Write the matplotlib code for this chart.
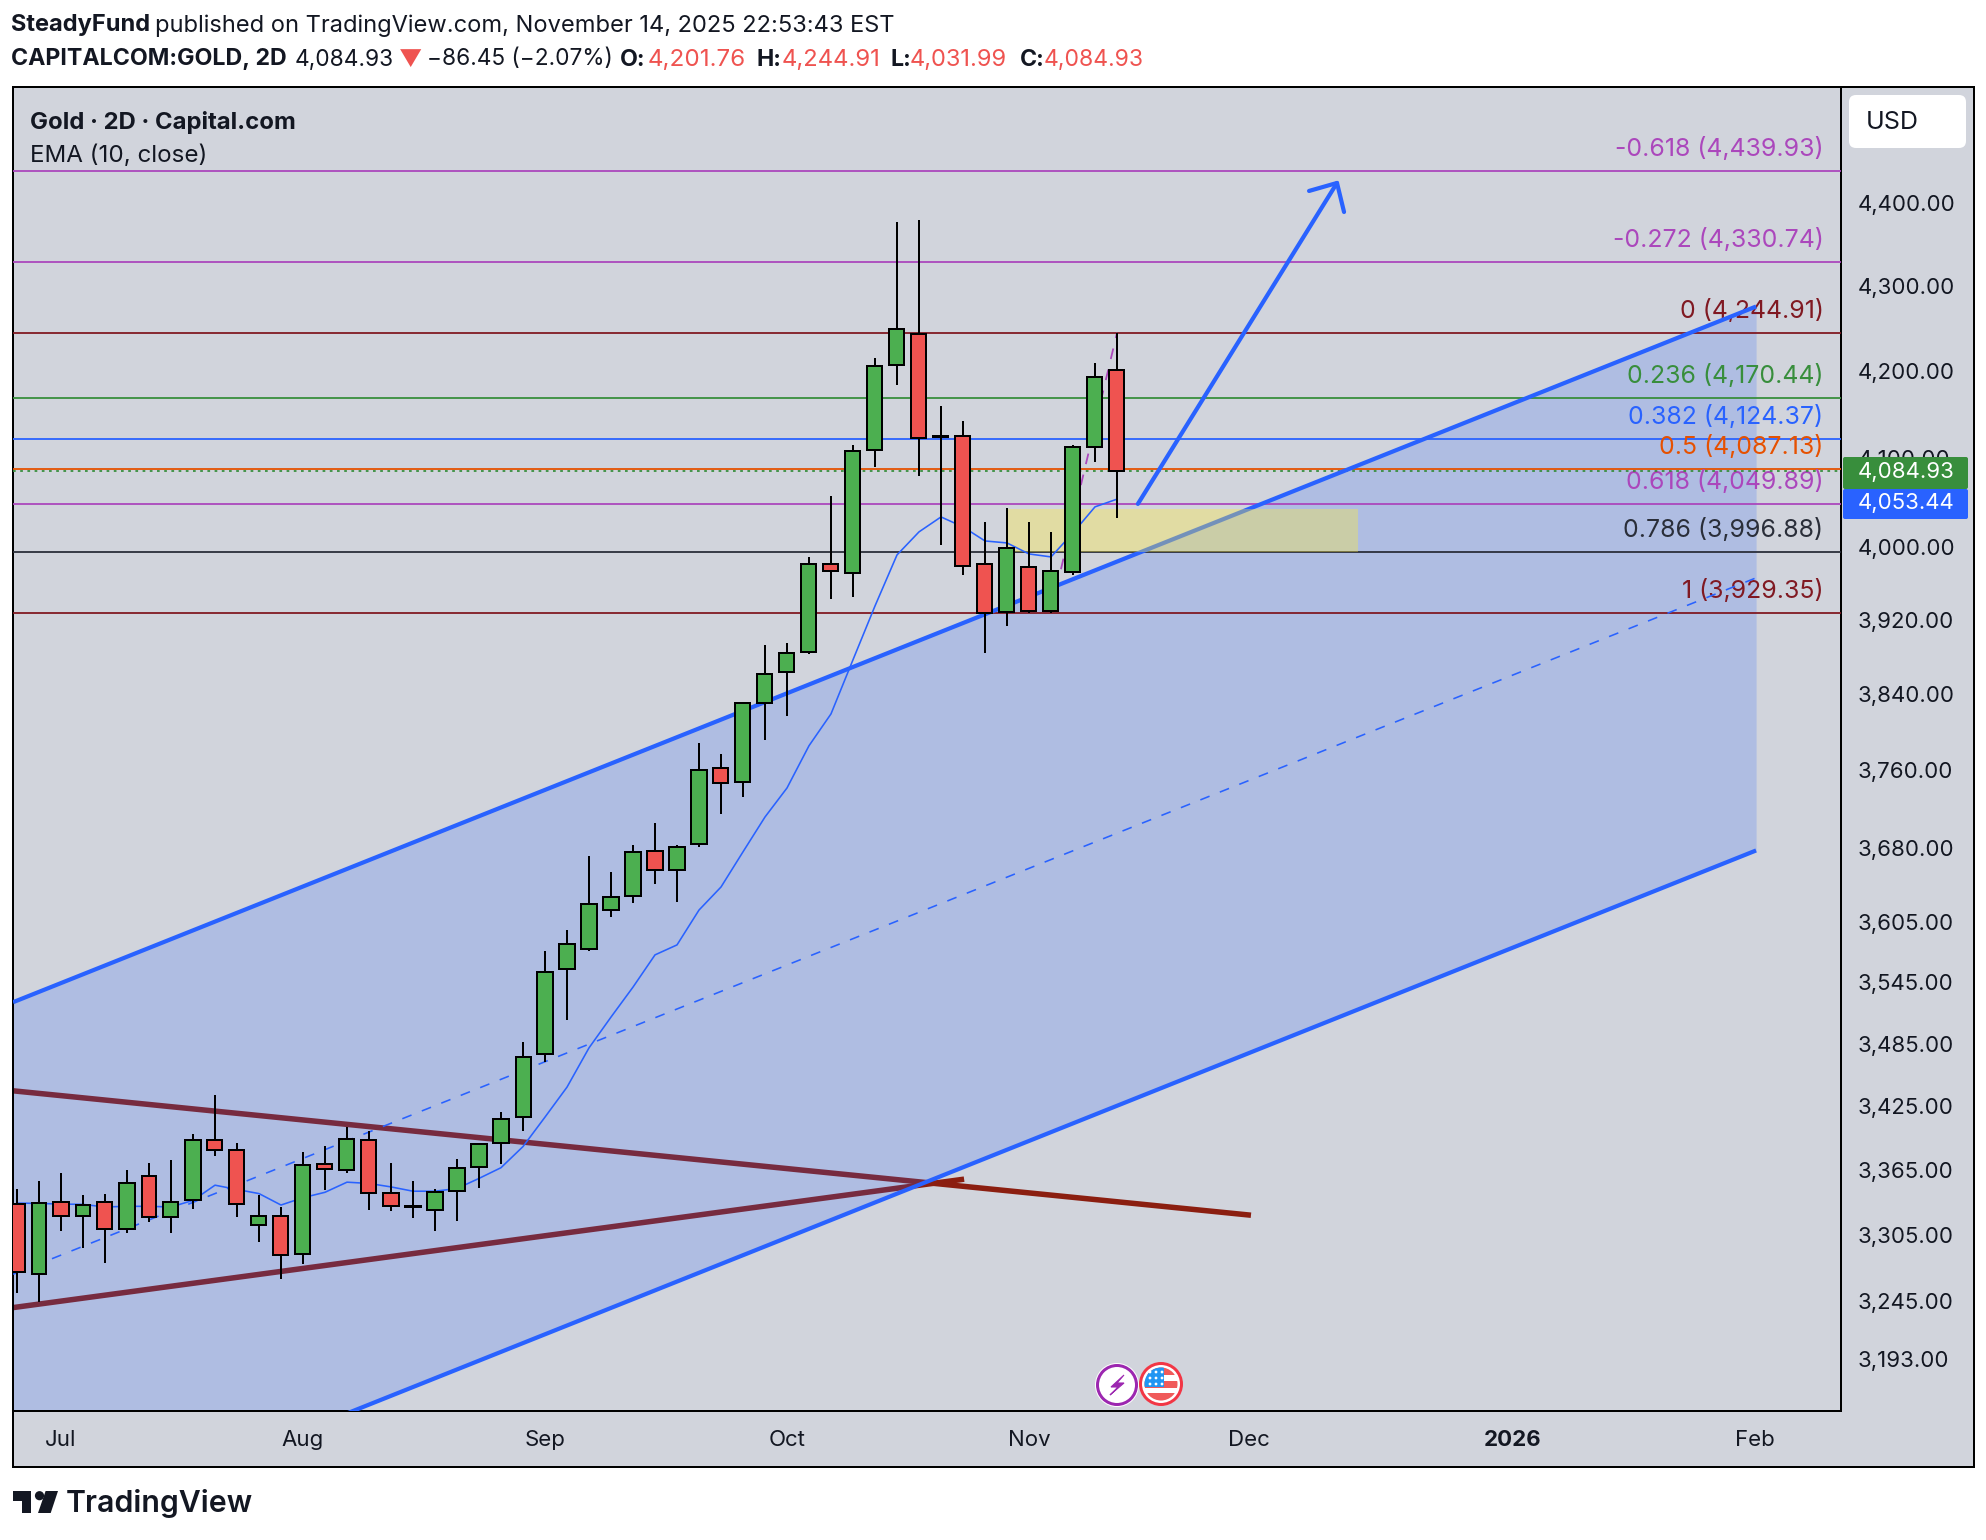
#!/usr/bin/env python3
import matplotlib

matplotlib.use("Agg")
import matplotlib.pyplot as plt
from matplotlib.patches import Circle, FancyBboxPatch, Polygon, Rectangle
from matplotlib.ticker import FixedLocator, NullLocator

W, H = 1986, 1540
BG = "#D1D4DC"
UP = "#4CAF50"
DOWN = "#EF5350"
BLUE = "#2962FF"
PURPLE = "#AB47BC"
DARK_RED = "#801922"
INK = "#131722"

# candle data, one entry per 2D bar
opens = [3333.8, 3269.1, 3335.2, 3322.2, 3335.2, 3310.3, 3359.6, 3321.0, 3336.8, 3393.5,
         3384.1, 3313.7, 3322.5, 3287.2, 3371.0, 3365.0, 3393.5, 3343.7, 3331.8, 3328.3,
         3345.9, 3367.8, 3390.4, 3414.8, 3475.2, 3558.1, 3577.6, 3616.4, 3630.7, 3676.9,
         3657.2, 3683.5, 3761.6, 3747.6, 3830.5, 3863.9, 3885.5, 3981.6, 3971.4, 4109.6,
         4207.6, 4243.0, 4125.0, 4125.6, 3981.3, 3928.7, 3978.3, 3929.7, 3972.5, 4113.0,
         4201.76]
highs = [3347.1, 3354.7, 3362.2, 3341.5, 3342.4, 3365.0, 3371.6, 3374.4, 3398.8, 3435.6,
         3390.1, 3341.5, 3330.4, 3381.9, 3387.6, 3405.7, 3401.7, 3371.6, 3354.7, 3346.9,
         3375.3, 3389.8, 3419.5, 3486.8, 3575.9, 3596.8, 3671.5, 3655.2, 3682.7, 3705.2,
         3682.7, 3788.2, 3777.0, 3830.9, 3893.0, 3895.2, 3989.0, 4057.2, 4115.3, 4215.8,
         4377.5, 4380.0, 4159.8, 4142.7, 4027.9, 4043.6, 4027.9, 4016.7, 4115.3, 4210.0,
         4244.91]
lows = [3252.2, 3243.9, 3308.8, 3293.2, 3279.6, 3307.0, 3317.0, 3307.0, 3328.6, 3378.4,
        3321.6, 3298.7, 3264.9, 3278.6, 3346.2, 3362.5, 3327.9, 3327.0, 3320.6, 3308.8,
        3317.9, 3348.4, 3370.6, 3401.9, 3467.8, 3508.0, 3576.3, 3610.0, 3623.9, 3643.0,
        3624.6, 3681.0, 3714.4, 3732.2, 3791.0, 3816.9, 3883.0, 3943.0, 3945.3, 4089.5,
        4184.2, 4079.1, 4002.6, 3969.5, 3884.6, 3912.9, 3927.3, 3927.3, 3969.5, 4095.1,
        4031.99]
closes = [3271.0, 3334.7, 3322.2, 3332.5, 3310.3, 3352.5, 3321.0, 3335.2, 3393.5, 3383.8,
          3333.2, 3322.5, 3286.3, 3370.0, 3365.7, 3394.4, 3344.0, 3332.0, 3331.0, 3344.6,
          3367.2, 3389.8, 3413.2, 3472.3, 3555.4, 3583.2, 3622.9, 3630.0, 3675.9, 3657.2,
          3681.0, 3760.5, 3746.6, 3830.9, 3862.0, 3883.7, 3981.3, 3973.6, 4107.7, 4205.6,
          4249.0, 4122.9, 4124.4, 3979.0, 3927.6, 3998.9, 3929.7, 3973.6, 4113.0, 4192.6,
          4084.93]
ema10 = [3334.3, 3334.0, 3333.4, 3333.1, 3330.7, 3331.3, 3331.3, 3330.7, 3336.8, 3350.9,
         3346.9, 3343.1, 3332.5, 3339.3, 3344.3, 3353.7, 3352.5, 3349.3, 3345.3, 3345.3,
         3347.8, 3357.2, 3367.2, 3387.0, 3414.8, 3443.3, 3481.0, 3510.9, 3540.2, 3572.0,
         3581.9, 3616.7, 3639.9, 3675.6, 3711.3, 3741.3, 3785.4, 3819.0, 3876.8, 3935.1,
         3991.2, 4016.8, 4033.5, 4022.4, 4006.7, 4004.5, 3992.3, 3989.0, 4015.7, 4044.8,
         4053.44]

# fib levels: printed values, and where the lines sit against the price scale
fib_ratios = ["-0.618", "-0.272", "0", "0.236", "0.382", "0.5", "0.618", "0.786", "1"]
fib_prices = [4439.93, 4330.74, 4244.91, 4170.44, 4124.37, 4087.13, 4049.89, 3996.88, 3929.35]
fib_levels = [4439.93, 4329.0, 4244.9, 4168.9, 4121.5, 4087.2, 4048.0, 3994.5, 3927.0]
fib_colors = [PURPLE, PURPLE, DARK_RED, "#388E3C", BLUE, "#E65100", PURPLE, "#2A2E39", DARK_RED]

# drawings as (bar, price)
channel_upper_x, channel_upper_y = [-0.18, 79.05], [3525.4, 4276.0]
channel_lower_x, channel_lower_y = [-0.18, 79.05], [3031.0, 3677.0]
channel_mid_x, channel_mid_y = [-0.18, 79.05], [3269.1, 3965.9]
wedge_top_x, wedge_top_y = [-0.18, 56.09], [3439.8, 3323.1]
wedge_low_x, wedge_low_y = [-0.18, 43.05], [3239.0, 3356.5]
fib_trend_x, fib_trend_y = [47, 50], [3929.35, 4244.91]
zone_x, zone_y = [45.0, 60.95], [3994.5, 4042.5]
arrow_x, arrow_y = [50.95, 60.0], [4048.1, 4425.1]
arrow_head_x, arrow_head_y = [58.73, 60.0, 60.32], [4415.3, 4425.1, 4389.6]

price_ticks = [4400, 4300, 4200, 4100, 4000, 3920, 3840, 3760, 3680, 3605, 3545, 3485, 3425,
               3365, 3305, 3245, 3193]
month_ticks = [2, 13, 24, 35, 46, 56, 68, 79]
month_labels = ["Jul", "Aug", "Sep", "Oct", "Nov", "Dec", "2026", "Feb"]

plt.rcParams["font.family"] = ["Inter", "DejaVu Sans"]

PX = 72 / 100  # one pixel in points at dpi 100
fig = plt.figure(figsize=(W / 100, H / 100), dpi=100, facecolor="white")

# full canvas in pixel units behind the pane
ui = fig.add_axes([0, 0, 1, 1], zorder=0)
ui.set_xlim(0, W)
ui.set_ylim(H, 0)
ui.axis("off")
ui.add_patch(Rectangle((13, 87), 1961, 1380, fc=BG, ec="black", lw=2 * PX))

L, R, T, B = 13, 1841, 87, 1411
ax = fig.add_axes([L / W, 1 - B / H, (R - L) / W, (B - T) / H], zorder=1)
ax.set_facecolor(BG)
ax.set_yscale("log")
ax.set_xlim((L - 17) / 22, (R - 17) / 22)
ax.set_ylim(3147.4, 4544.5)
for spine in ax.spines.values():
    spine.set_linewidth(2 * PX)
    spine.set_color("black")

ax.yaxis.tick_right()
ax.yaxis.set_major_locator(FixedLocator(price_ticks))
ax.yaxis.set_minor_locator(NullLocator())
ax.set_yticklabels([f"{p:,.2f}" for p in price_ticks])
ax.xaxis.set_major_locator(FixedLocator(month_ticks))
ax.set_xticklabels(month_labels)
ax.tick_params(axis="both", length=0, labelsize=16, labelcolor=INK)
ax.tick_params(axis="y", pad=12)
ax.tick_params(axis="x", pad=14)
ax.get_xticklabels()[6].set_fontweight("bold")

# wedge goes under the channel fill, that is where its two tones come from
ax.plot(wedge_top_x, wedge_top_y, color="#8B1E10", lw=5.5 * PX, solid_capstyle="butt", zorder=1)
ax.plot(wedge_low_x, wedge_low_y, color="#8B1E10", lw=5.5 * PX, solid_capstyle="butt", zorder=1)
ax.fill_between(channel_upper_x, channel_upper_y, channel_lower_y, color=BLUE, alpha=0.2, lw=0, zorder=2)

for level, price, ratio, color in zip(fib_levels, fib_prices, fib_ratios, fib_colors):
    ax.axhline(level, color=color, lw=1.8 * PX, zorder=3)
    ax.annotate(f"{ratio} ({price:,.2f})", xy=(1823.5 / W, level), xycoords=("figure fraction", "data"),
                xytext=(0, 22 * PX), textcoords="offset points", ha="right", va="center",
                fontsize=17.9, color=color, zorder=3)

ax.axhline(closes[-1], color="#388E3C", lw=1.8 * PX, ls=(0, (1.5, 2.5)), zorder=3)
ax.plot(channel_upper_x, channel_upper_y, color=BLUE, lw=4.2 * PX, solid_capstyle="butt", zorder=4)
ax.plot(channel_lower_x, channel_lower_y, color=BLUE, lw=4.2 * PX, solid_capstyle="butt", zorder=4)
ax.plot(channel_mid_x, channel_mid_y, color=BLUE, lw=1.6 * PX, ls=(0, (6.2, 6.9)), zorder=4)
ax.plot(fib_trend_x, fib_trend_y, color=PURPLE, lw=1.8 * PX, ls=(0, (6, 6)), zorder=4)
ax.fill_between(zone_x, zone_y[0], zone_y[1], color="#FFEB3B", alpha=0.35, lw=0, zorder=5)
ax.plot(ema10, color=BLUE, lw=1.6 * PX, zorder=6)

# candles
for i, (o, h, l, c) in enumerate(zip(opens, highs, lows, closes)):
    face = UP if c >= o else DOWN
    ax.plot([i, i], [l, h], color="black", lw=2 * PX, solid_capstyle="butt", zorder=7)
    ax.add_patch(Rectangle((i - 7.5 / 22, min(o, c)), 15 / 22, abs(c - o), fc=face, ec="black",
                           lw=2 * PX, zorder=8, joinstyle="miter"))

ax.plot(arrow_x, arrow_y, color=BLUE, lw=4.2 * PX, solid_capstyle="round", zorder=9)
ax.plot(arrow_head_x, arrow_head_y, color=BLUE, lw=4.2 * PX, solid_capstyle="round", zorder=9)

ui_top = fig.add_axes([0, 0, 1, 1], zorder=2)
ui_top.set_xlim(0, W)
ui_top.set_ylim(H, 0)
ui_top.axis("off")
ui_top.patch.set_alpha(0)


def put(x, y, text, **kw):
    kw.setdefault("fontsize", 16.7)
    kw.setdefault("color", INK)
    ui_top.text(x, y, text, va="center", ha="left", **kw)


put(30, 122.5, "Gold · 2D · Capital.com", fontweight="bold", fontsize=17.2)
put(30, 156, "EMA (10, close)", fontsize=17.4)

put(11, 25.5, "SteadyFund", fontweight="bold", fontsize=17)
put(155, 25.5, "published on TradingView.com, November 14, 2025 22:53:43 EST", fontsize=17)
put(11, 59.5, "CAPITALCOM:GOLD, 2D", fontweight="bold")
put(295, 59.5, "4,084.93", fontsize=16.4)
put(399, 59.5, "▼", color=DOWN)
put(427, 59.5, "−86.45 (−2.07%)", fontsize=16.3)
put(620, 59.5, "O:", fontweight="bold")
put(648, 59.5, "4,201.76", color=DOWN, fontsize=17.4)
put(756, 59.5, "H:", fontweight="bold")
put(782, 59.5, "4,244.91", color=DOWN, fontsize=17.2)
put(891, 59.5, "L:", fontweight="bold")
put(910, 59.5, "4,031.99", color=DOWN, fontsize=17)
put(1020, 59.5, "C:", fontweight="bold")
put(1044, 59.5, "4,084.93", color=DOWN, fontsize=16.5)

# USD box and last price tags
ui_top.add_patch(FancyBboxPatch((1849, 95), 117, 53, boxstyle="round,pad=0,rounding_size=7", fc="white", ec="none"))
put(1866, 122.5, "USD", fontsize=18)
ui_top.add_patch(FancyBboxPatch((1843, 457), 125, 32, boxstyle="round,pad=0,rounding_size=2", fc="#388E3C", ec="none"))
ui_top.add_patch(FancyBboxPatch((1843, 489), 125, 30, boxstyle="round,pad=0,rounding_size=2", fc=BLUE, ec="none"))
put(1858, 472, "4,084.93", color="white", fontsize=16)
put(1858, 503, "4,053.44", color="white", fontsize=16)

# event icons
ui_top.add_patch(Circle((1117, 1385), 22, fc="white", ec="none"))
ui_top.add_patch(Circle((1117, 1385), 19.5, fc="white", ec="#9C27B0", lw=3 * PX))
ui_top.add_patch(Polygon([(1124, 1375), (1111, 1387), (1118, 1387), (1110, 1395), (1124, 1383), (1117, 1383)],
                         fc="#9C27B0", ec="#9C27B0", lw=0.8))
ui_top.add_patch(Circle((1161, 1384), 20.5, fc="white", ec="#F23645", lw=3 * PX))
flag_clip = Circle((1161, 1384), 16.5, transform=ui_top.transData)
flag_parts = [
    Rectangle((1144, 1367), 34, 8, fc="#F05A5A", ec="none"),
    Rectangle((1144, 1381), 34, 7, fc="#F05A5A", ec="none"),
    Rectangle((1144, 1393), 34, 8, fc="#F05A5A", ec="none"),
    Rectangle((1144, 1367), 20, 20, fc="#2196F3", ec="none"),
]
for part in flag_parts:
    ui_top.add_patch(part)
    part.set_clip_path(flag_clip)
for sx in (1150, 1156, 1162):
    for sy in (1372, 1378, 1384):
        ui_top.add_patch(Circle((sx, sy), 1.4, fc="white", ec="none"))

# TradingView footer
ui_top.add_patch(Polygon([(12.5, 1491), (31, 1491), (31, 1513), (22, 1513), (22, 1501), (12.5, 1501)], fc=INK, ec="none"))
ui_top.add_patch(Circle((39.5, 1495.7), 4.6, fc=INK, ec="none"))
ui_top.add_patch(Polygon([(45.6, 1491), (58, 1491), (50.7, 1513), (38, 1513)], fc=INK, ec="none"))
put(66, 1503, "TradingView", fontsize=21.8, fontweight="semibold")

fig.savefig("out.png", dpi=100, facecolor="white")
